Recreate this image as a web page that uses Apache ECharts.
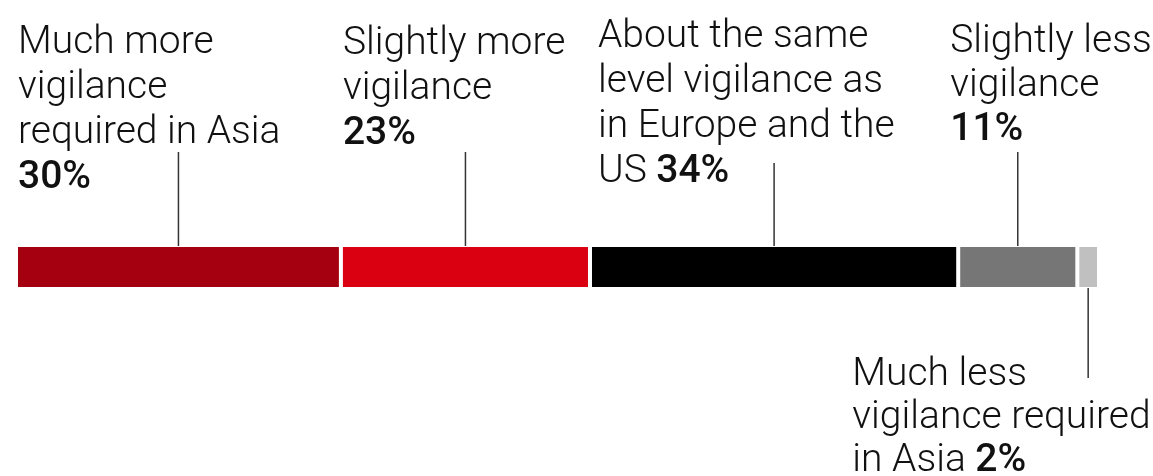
<!DOCTYPE html>
<html lang="en">
<head>
<meta charset="UTF-8">
<title>Vigilance in Asia</title>
<script src="https://cdn.jsdelivr.net/npm/echarts@6/dist/echarts.min.js"></script>
<style>
  html, body { margin: 0; padding: 0; background: #fff; }
  #main { width: 1153px; height: 476px; }
</style>
</head>
<body>
<div id="main"></div>
<script>
var categories = [
    'Much more vigilance required in Asia',
    'Slightly more vigilance',
    'About the same level vigilance as in Europe and the US',
    'Slightly less vigilance',
    'Much less vigilance required in Asia'
];
var values = [30, 23, 34, 11, 2];
// wrapped label text as in the picture; the % goes after the last line
var labelLines = [
    ['Much more', 'vigilance', 'required in Asia', ''],
    ['Slightly more', 'vigilance', ''],
    ['About the same', 'level vigilance as', 'in Europe and the', 'US '],
    ['Slightly less', 'vigilance', ''],
    ['Much less', 'vigilance required', 'in Asia ']
];
var colors = ['#a50010', '#db0011', '#000000', '#767676', '#c0c0c0'];

// label offset from segment top-left, line height, leader line ends relative to bar centre
var layout = [
    {dx: 2, dy: -224, lh: 45, y1: -115, y2: -21},
    {dx: 2, dy: -223, lh: 45, y1: -115, y2: -21},
    {dx: 8, dy: -230, lh: 45, y1: -104, y2: -21},
    {dx: -8, dy: -225, lh: 44, y1: -115, y2: -21},
    {dx: -225, dy: 109, lh: 43, y1: 21, y2: 111}
];

var myChart = echarts.init(document.getElementById('main'));

var series = values.map(function (v, i) {
    var lines = labelLines[i];
    var txt = lines.slice(0, -1).map(function (l) { return '{t|' + l + '}'; });
    var last = lines[lines.length - 1];
    txt.push((last ? '{t|' + last + '}' : '') + '{b|' + v + '%}');
    return {
        name: categories[i],
        type: 'bar',
        stack: 'total',
        barWidth: 44,
        data: [v],
        itemStyle: {
            color: colors[i],
            borderColor: '#fff',
            borderWidth: 2
        },
        label: {
            show: true,
            position: [layout[i].dx, layout[i].dy],
            align: 'left',
            verticalAlign: 'top',
            formatter: txt.join('\n'),
            rich: {
                t: {
                    fontFamily: 'Roboto',
                    fontWeight: 300,
                    fontSize: 39,
                    lineHeight: layout[i].lh,
                    color: '#111'
                },
                b: {
                    fontFamily: 'Roboto',
                    fontWeight: 500,
                    fontSize: 39,
                    lineHeight: layout[i].lh,
                    color: '#111'
                }
            }
        }
    };
});

var option = {
    backgroundColor: '#ffffff',
    animation: false,
    grid: {left: 16, right: 54, top: 245, height: 44, containLabel: false},
    xAxis: {type: 'value', min: 0, max: 100, show: false},
    yAxis: {type: 'category', data: [''], show: false},
    series: series
};
myChart.setOption(option);

// leader lines from each label down (or up) to the middle of its segment
var cum = 0;
var leaders = values.map(function (v, i) {
    var p = myChart.convertToPixel({xAxisIndex: 0, yAxisIndex: 0}, [cum + v / 2, 0]);
    cum += v;
    return {
        type: 'line',
        shape: {x1: p[0], y1: p[1] + layout[i].y1, x2: p[0], y2: p[1] + layout[i].y2},
        style: {stroke: '#333', lineWidth: 1.5},
        z: 10
    };
});
myChart.setOption({graphic: leaders});
</script>
</body>
</html>
